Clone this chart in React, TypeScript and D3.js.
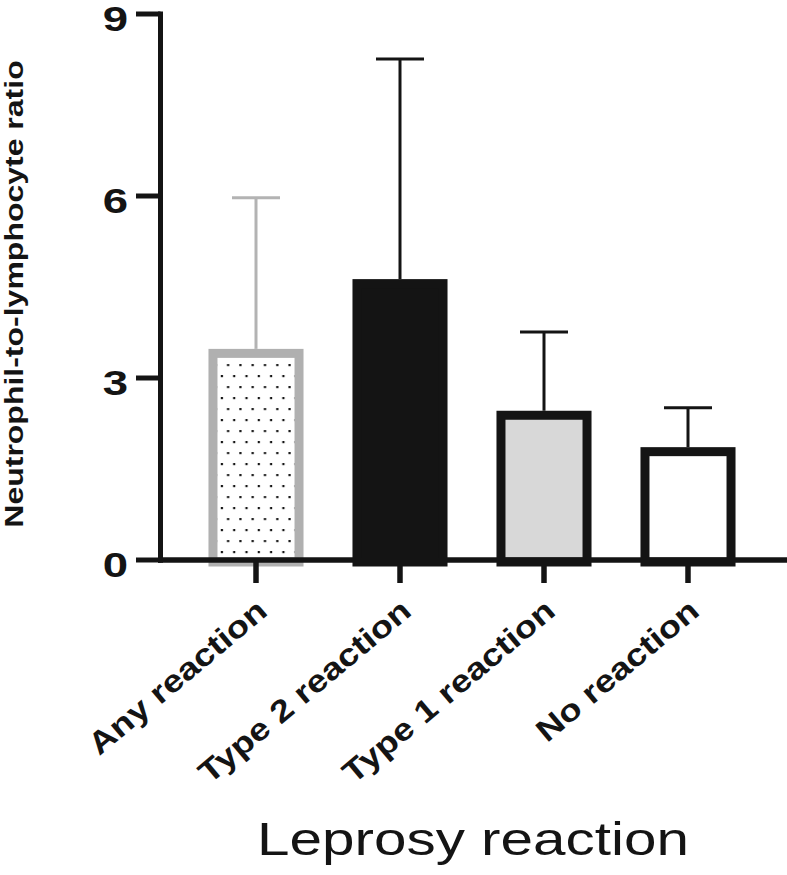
import * as d3 from "d3";
import React from "react";

// group labels along the x axis
const categories = ["Any reaction", "Type 2 reaction", "Type 1 reaction", "No reaction"];
// bar heights (mean NLR) and top of the upward error bar
const means = [3.48, 4.63, 2.46, 1.86];
const upper = [5.97, 8.26, 3.76, 2.51];
const yTicks = [0, 3, 6, 9];
const yTitle = "Neutrophil-to-lymphocyte ratio";
const xTitle = "Leprosy reaction";

// per-bar look
const barFill = ["url(#dots)", "#141414", "#d8d8d8", "#ffffff"];
const barStroke = ["#b0b0b0", "#141414", "#141414", "#141414"];
const errStroke = ["#b3b3b3", "#141414", "#141414", "#141414"];

const W = 787;
const H = 875;
const ink = "#141414";
const font = "'Liberation Sans', Arial, Helvetica, sans-serif";

const y = d3.scaleLinear().domain([0, 9]).range([560, 14]);
const x = d3.scaleBand()
  .domain(categories)
  .range([184, 760])
  .paddingInner(0.34)
  .paddingOuter(0.17);

const border = 9; // bar outline, drawn inside the bar

export default function App() {
  const bw = x.bandwidth();
  const axisX = 160.5;
  const base = y(0);

  return (
    <svg width={W} height={H} style={{ position: "absolute", left: 0, top: 0, background: "#fff" }}>
      <defs>
        <pattern id="dots" patternUnits="userSpaceOnUse" x={221} y={360} width={12.3} height={22}>
          <rect width={12.3} height={22} fill="#fff" />
          <rect x={6} y={4} width={2.2} height={2.2} fill={ink} />
          <rect x={-0.2} y={15} width={2.2} height={2.2} fill={ink} />
          <rect x={12.1} y={15} width={2.2} height={2.2} fill={ink} />
        </pattern>
      </defs>

      {/* error bars (upper only) */}
      {categories.map((c, i) => {
        const cx = x(c)! + bw / 2;
        return (
          <g key={"err" + c} stroke={errStroke[i]} strokeWidth={3}>
            <line x1={cx} x2={cx} y1={y(means[i])} y2={y(upper[i])} />
            <line x1={cx - 24} x2={cx + 24} y1={y(upper[i])} y2={y(upper[i])} />
          </g>
        );
      })}

      {/* bars */}
      {categories.map((c, i) => {
        const x0 = x(c)!;
        const top = y(means[i]);
        return (
          <rect
            key={"bar" + c}
            x={x0 + border / 2}
            y={top + border / 2}
            width={bw - border}
            height={base - top - border / 2 + 2}
            fill={barFill[i]}
            stroke={barStroke[i]}
            strokeWidth={border}
          />
        );
      })}

      {/* y axis */}
      <line x1={axisX} x2={axisX} y1={y(9) - 2.5} y2={base + 2.75} stroke={ink} strokeWidth={5} />
      {yTicks.map((t) => (
        <g key={"yt" + t}>
          <line x1={136} x2={axisX} y1={y(t)} y2={y(t)} stroke={ink} strokeWidth={5} />
          <text
            transform={`translate(128,${y(t) + 16.5}) scale(1.3,1)`}
            textAnchor="end"
            fontFamily={font}
            fontWeight="bold"
            fontSize={35}
            fill={ink}
          >
            {t}
          </text>
        </g>
      ))}

      {/* x axis */}
      <line x1={axisX - 2.5} x2={W} y1={base} y2={base} stroke={ink} strokeWidth={5.5} />
      {categories.map((c) => {
        const cx = x(c)! + bw / 2;
        return (
          <g key={"xt" + c}>
            <line x1={cx} x2={cx} y1={base} y2={583} stroke={ink} strokeWidth={5.5} />
            <text
              transform={`translate(${cx + 13},614) rotate(-40) scale(1.18,1)`}
              textAnchor="end"
              fontFamily={font}
              fontWeight="bold"
              fontSize={31}
              fill={ink}
            >
              {c}
            </text>
          </g>
        );
      })}

      {/* axis titles */}
      <text
        transform={`translate(22.5,294) rotate(-90) scale(1.28,1)`}
        textAnchor="middle"
        fontFamily={font}
        fontWeight="bold"
        fontSize={25}
        fill={ink}
      >
        {yTitle}
      </text>
      <text
        transform={`translate(473,855) scale(1.27,1)`}
        textAnchor="middle"
        fontFamily={font}
        fontSize={46}
        fill={ink}
      >
        {xTitle}
      </text>
    </svg>
  );
}
